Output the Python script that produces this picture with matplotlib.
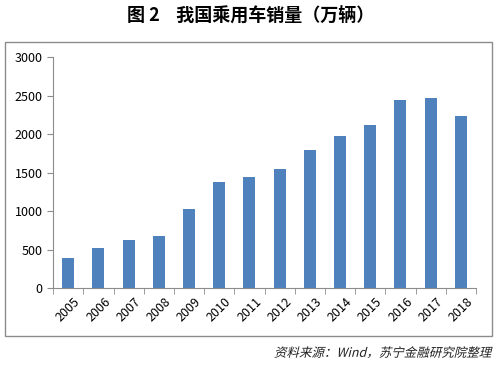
import matplotlib
matplotlib.use("Agg")
import matplotlib.pyplot as plt
from matplotlib.patches import Rectangle, PathPatch
from matplotlib.textpath import TextPath
from matplotlib.font_manager import FontProperties
from matplotlib.transforms import Affine2D
import numpy as np

plt.rcParams['font.family'] = ['Noto Sans CJK SC', 'DejaVu Sans']

years = ['2005', '2006', '2007', '2008', '2009', '2010', '2011',
         '2012', '2013', '2014', '2015', '2016', '2017', '2018']
sales = [397, 518, 630, 676, 1033, 1376, 1447, 1550, 1793, 1970, 2115, 2438, 2472, 2235]
yticks = [0, 500, 1000, 1500, 2000, 2500, 3000]
source = '资料来源：Wind，苏宁金融研究院整理'

fig = plt.figure(figsize=(5.01, 3.68), dpi=100)
fig.patch.set_facecolor('white')

# outer chart frame
fig.patches.append(Rectangle((0.010, 0.087), 0.972, 0.799, transform=fig.transFigure,
                             fill=False, edgecolor='#8c8c8c', linewidth=1.0))

ax = fig.add_axes([0.106, 0.217, 0.844, 0.628])
x = np.arange(len(years))
ax.bar(x, sales, width=0.4, color='#4F81BD')

ax.set_xlim(-0.5, len(years) - 0.5)
ax.set_ylim(0, 3000)
ax.set_yticks(yticks)
ax.set_yticklabels([str(v) for v in yticks], fontsize=9)

ax.set_xticks(x)
ax.set_xticklabels(years, rotation=45, fontsize=9, ha='center', va='top')
ax.tick_params(axis='x', which='major', length=0, pad=5)
ax.set_xticks(np.arange(len(years) + 1) - 0.5, minor=True)
ax.tick_params(axis='x', which='minor', length=4, color='#8c8c8c', direction='out')
ax.tick_params(axis='y', length=4, color='#8c8c8c', direction='out')

for s in ['top', 'right']:
    ax.spines[s].set_visible(False)
for s in ['left', 'bottom']:
    ax.spines[s].set_color('#8c8c8c')

fig.text(0.5, 0.958, '图 2    我国乘用车销量（万辆）', ha='center', va='center',
         fontsize=13, fontweight='bold')

# slanted source note (CJK font has no italic, so shear the glyph outlines)
fp = FontProperties(family='Noto Sans CJK SC', size=12.5)
tp = TextPath((0, 0), source, prop=fp)
bb = tp.get_extents()
W, H = fig.get_size_inches() * fig.dpi
tr = (Affine2D().translate(-bb.x1, -(bb.y0 + bb.y1) / 2).skew_deg(14, 0)
      .translate(0.982 * W, 0.043 * H))
fig.patches.append(PathPatch(tr.transform_path(tp), transform=None,
                             facecolor='#222222', edgecolor='none'))

fig.savefig('out.png', dpi=100)
